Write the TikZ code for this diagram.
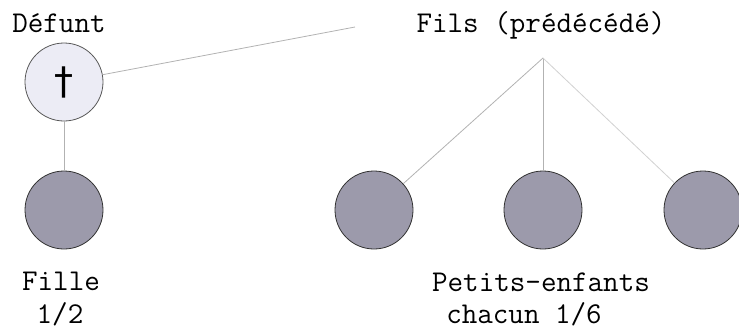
\documentclass[tikz,border=0pt]{standalone}
\usepackage{fontspec}
\newfontfamily\croix{DejaVu Sans}
\usepackage{tikz}
\definecolor{deuil}{RGB}{236,236,245}
\definecolor{heritier}{RGB}{156,154,171}

\begin{document}
\begin{tikzpicture}[x=0.5pt,y=-0.5pt,
        font=\ttfamily\fontsize{15.1}{18}\selectfont,
        defunt/.style={shape=circle,draw=black!65,fill=deuil,minimum size=39pt,inner sep=0pt},
        heir/.style={shape=circle,draw=black!80,fill=heritier,minimum size=39pt,inner sep=0pt},
        lien/.style={draw=black!30,line width=0.4pt}]
        \useasboundingbox (0,0) rectangle (739,327);
        \path (59,32) node [anchor=base] (tdefunt) {Défunt}
              (541,32) node [anchor=base] (tfils) {Fils (prédécédé)}
              (64,82) node [defunt] (defunt) {\croix\fontsize{19}{19}\selectfont †}
              (64,210) node [heir] (fille) {}
              (374,210) node [heir] (pe1) {}
              (543,210) node [heir] (pe2) {}
              (703,210) node [heir] (pe3) {}
              (61,290) node [anchor=base] (tfille) {Fille}
              (60,323) node [anchor=base] (tpart) {1/2}
              (541,291) node [anchor=base] (tpetits) {Petits-enfants}
              (524,323) node [anchor=base] (tchacun) {chacun 1/6};
        \coordinate (fin) at (355,27);
        \coordinate (fils) at (543,58);
        \draw [lien] (defunt) -- (fin);
        \draw [lien] (defunt) -- (fille);
        \draw [lien] (fils) -- (pe1);
        \draw [lien] (fils) -- (pe2);
        \draw [lien,draw=black!18] (fils) -- (pe3);
    \end{tikzpicture}
\end{document}
